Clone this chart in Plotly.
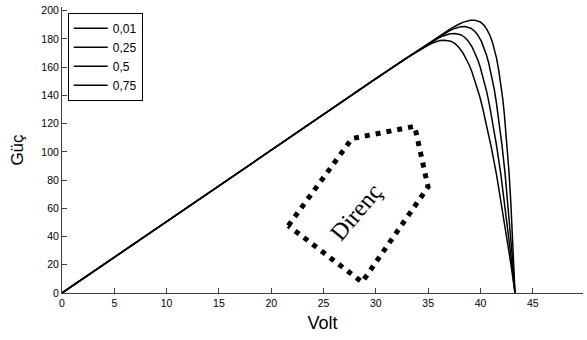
import plotly.graph_objects as go

# Shared, nearly linear part of the P-V curves (volts, watts)
v_common = [0, 5, 10, 15, 20, 25, 30, 33]
p_common = [0, 25.4, 50.8, 76.1, 101.4, 126.6, 151.8, 166.8]

# Knee and fall-off of each curve, one per series resistance
series_labels = ["0,01", "0,25", "0,5", "0,75"]

v_r001 = [37.16, 37.93, 38.37, 39.04, 39.45, 39.99, 40.34, 40.61, 40.93, 41.17, 41.37,
          41.54, 41.77, 41.97, 42.14, 42.28, 42.52, 42.73, 42.90, 43.05, 43.19, 43.30]
p_r001 = [187.3, 190.4, 191.9, 193.2, 193.3, 192.0, 189.6, 186.8, 182.1, 177.0, 171.7,
          166.2, 156.6, 146.9, 137.0, 126.8, 106.3, 85.5, 64.3, 43.1, 21.6, 0]

v_r025 = [36.20, 36.98, 37.42, 38.10, 38.52, 39.08, 39.45, 39.74, 40.08, 40.35, 40.58,
          40.78, 41.06, 41.31, 41.52, 41.71, 42.05, 42.35, 42.61, 42.86, 43.09, 43.30]
p_r025 = [182.4, 185.6, 187.1, 188.6, 188.7, 187.6, 185.4, 182.8, 178.4, 173.5, 168.4,
          163.1, 154.0, 144.6, 134.9, 125.1, 105.1, 84.7, 63.9, 42.9, 21.5, 0]

v_r05 = [35.19, 35.97, 36.42, 37.11, 37.54, 38.12, 38.51, 38.82, 39.19, 39.49, 39.75,
         39.98, 40.31, 40.61, 40.87, 41.11, 41.55, 41.95, 42.31, 42.66, 42.99, 43.30]
p_r05 = [177.4, 180.6, 182.1, 183.7, 183.9, 183.0, 181.0, 178.6, 174.4, 169.8, 165.0,
         159.9, 151.2, 142.1, 132.8, 123.3, 103.9, 83.9, 63.5, 42.7, 21.5, 0]

v_r075 = [34.19, 34.97, 35.42, 36.12, 36.56, 37.16, 37.57, 37.90, 38.30, 38.63, 38.92,
          39.18, 39.56, 39.91, 40.22, 40.51, 41.05, 41.55, 42.01, 42.46, 42.89, 43.30]
p_r075 = [172.3, 175.5, 177.1, 178.8, 179.1, 178.4, 176.6, 174.3, 170.4, 166.1, 161.5,
          156.7, 148.4, 139.7, 130.7, 121.5, 102.6, 83.1, 63.0, 42.5, 21.4, 0]

# Dotted outline around the "Direnç" label
outline_v = [21.63, 27.72, 33.71, 34.99, 28.68, 21.63]
outline_p = [47.7, 109.4, 118.1, 75.1, 7.7, 47.7]

x_ticks = [0, 5, 10, 15, 20, 25, 30, 35, 40, 45]
y_ticks = [0, 20, 40, 60, 80, 100, 120, 140, 160, 180, 200]

fig = go.Figure()

curves = [(v_r001, p_r001), (v_r025, p_r025), (v_r05, p_r05), (v_r075, p_r075)]
for label, (vv, pp) in zip(series_labels, curves):
    fig.add_trace(go.Scatter(
        x=v_common + vv, y=p_common + pp, mode="lines", name=label,
        line=dict(color="black", width=1.5),
    ))

fig.add_trace(go.Scatter(
    x=outline_v, y=outline_p, mode="lines", showlegend=False, hoverinfo="skip",
    line=dict(color="black", width=5, dash="5px,6px"),
))

fig.add_annotation(
    x=28.1, y=57.5, text="Direnç", showarrow=False, textangle=-50,
    font=dict(family="Liberation Serif", size=24, color="black"),
)

axis_common = dict(
    showline=True, linecolor="#404040", linewidth=1, mirror=False,
    ticks="inside", ticklen=5, tickcolor="#404040", tickwidth=1,
    showgrid=False, zeroline=False,
    tickfont=dict(family="Liberation Sans", size=10.5, color="black"),
)

fig.update_layout(
    width=587, height=340,
    margin=dict(l=62, r=4, t=5, b=47),
    paper_bgcolor="white", plot_bgcolor="white",
    xaxis=dict(range=[0, 49.8], tickvals=x_ticks,
               title=dict(text="Volt", standoff=8,
                          font=dict(family="Liberation Sans", size=18, color="black")),
               **axis_common),
    yaxis=dict(range=[0, 202.6], tickvals=y_ticks,
               title=dict(text="Güç", standoff=13,
                          font=dict(family="Liberation Sans", size=17, color="black")),
               **axis_common),
    legend=dict(x=0.011, y=0.98, xanchor="left", yanchor="top",
                bgcolor="white", bordercolor="black", borderwidth=1,
                font=dict(family="Liberation Sans", size=12, color="black"),
                tracegroupgap=0, itemwidth=34),
    showlegend=True,
)

fig.write_html("out.html")
